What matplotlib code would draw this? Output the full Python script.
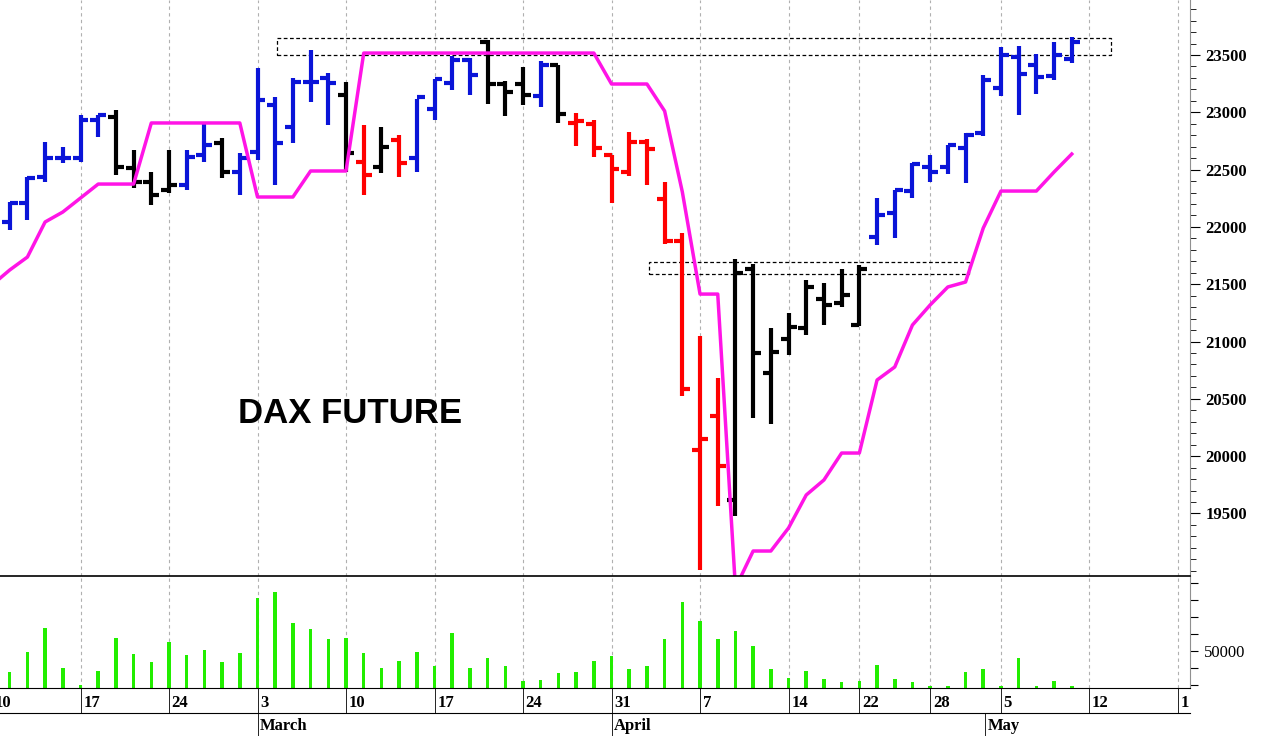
import matplotlib
matplotlib.use("Agg")
import matplotlib.pyplot as plt
import matplotlib.transforms as mtransforms
import numpy as np

# trading-day index (0 = Feb 10)
idx = list(range(1, 62))
opens = [22043,22209,22435,22601,22601,22933,22959,22514,22392,22322,22366,22627,22732,22479,22654,23063,22872,23264,23299,23151,
         22566,22523,22758,22601,23029,23256,23456,23613,23243,23243,23142,23413,22907,22898,22627,22479,22741,22243,21877,20053,
         20353,19617,21633,20728,21022,21118,21371,21336,21144,21912,22121,22313,22523,22523,22688,22820,23212,23483,23413,23316,23465]
highs = [22217,22435,22741,22697,22976,22976,23020,22671,22479,22671,22671,22915,22776,22645,23386,23133,23299,23543,23343,23264,
         22889,22872,22802,23120,23290,23491,23474,23627,23273,23395,23448,23413,22997,22936,22627,22828,22767,22392,21947,21048,
         20681,21724,21676,21118,21249,21537,21510,21633,21668,22252,22322,22558,22627,22715,22820,23325,23570,23578,23509,23613,23657]
lows = [21973,22060,22392,22558,22566,22785,22453,22340,22191,22296,22322,22566,22427,22278,22584,22366,22732,23090,22889,22479,
        22278,22470,22435,22479,22933,23195,23151,23072,22968,23060,23050,22907,22706,22614,22209,22444,22366,21851,20528,19006,
        19565,19477,20333,20283,20882,21057,21144,21301,21135,21842,21903,22252,22392,22462,22383,22793,23142,22976,23160,23282,23430]
closes = [22209,22427,22601,22601,22933,22976,22523,22392,22278,22366,22610,22715,22479,22601,23107,22732,23264,23264,23256,22645,
          22453,22697,22558,23133,23290,23456,23325,23243,23173,23151,23413,22985,22927,22691,22505,22741,22676,21877,20586,20149,
          19913,21602,20903,20912,21127,21476,21318,21406,21633,22104,22322,22549,22479,22715,22802,23282,23500,23334,23308,23500,23613]
colors = (["b"]*6 + ["k"]*4 + ["b"]*2 + ["k"] + ["b"]*6 + ["k"] + ["r","k","r"] + ["b"]*4 + ["k"]*3 + ["b","k"]
          + ["r"]*9 + ["k"]*8 + ["b"]*12)
stop_idx = list(range(0, 62))
stop = [21493,21624,21737,22043,22130,22252,22374,22374,22374,22907,22907,22907,22907,22907,22907,22261,22261,22261,22488,22488,22488,
        23517,23517,23517,23517,23517,23517,23517,23517,23517,23517,23517,23517,23517,23517,23247,23247,23247,23011,22305,21414,21414,
        18850,19172,19172,19373,19661,19792,20027,20027,20664,20778,21144,21319,21476,21519,21990,22313,22313,22313,22479,22636]
volume = [37260,49020,63130,39610,29810,38240,57450,48040,43140,55290,47450,50390,43140,48430,80770,84300,66070,62740,56860,57450,
          48430,39810,44120,49020,40790,60190,39810,45690,40790,32360,32750,36870,37260,44120,46670,39220,40790,56860,78810,67640,
          56860,61560,52550,39220,34120,38040,33340,31770,32160,41570,33340,31580,29030,29030,37260,39220,29420,45490,29030,32160,29030]
week_idx = [0,5,10,15,20,25,30,35,40,45,49,53,57,62,67]
week_lbl = ["10","17","24","3","10","17","24","31","7","14","22","28","5","12","1"]
month_idx = [15,35,56.1]
month_lbl = ["March","April","May"]

colmap = {"b": "#0a14d8", "k": "#000000", "r": "#ff0000"}
serif = dict(family="Liberation Serif", fontweight="bold")

W, H = 1262, 736
fig = plt.figure(figsize=(W/100, H/100), dpi=100)
axw = 1190/W
axp = fig.add_axes([0, 1-576/H, axw, 576/H])
axv = fig.add_axes([0, 48/H, axw, 112/H], sharex=axp)

xl = (0.452, 67.68)
for ax in (axp, axv):
    ax.set_xlim(*xl)
    for g in week_idx:
        ax.axvline(g, color="#b0b0b0", lw=0.8, ls=(0, (3, 3)), zorder=0)
    ax.yaxis.tick_right()
    ax.tick_params(axis="x", bottom=False, labelbottom=False)
    for s in ("left", "top"):
        ax.spines[s].set_visible(False)
    ax.spines["right"].set_color("#909090")

# price
tl = 0.45
for i, o, h, l, c, k in zip(idx, opens, highs, lows, closes, colors):
    col = colmap[k]
    axp.plot([i, i], [l, h], color=col, lw=3, solid_capstyle="butt")
    axp.plot([i-tl, i], [o, o], color=col, lw=3, solid_capstyle="butt")
    axp.plot([i, i+tl], [c, c], color=col, lw=3, solid_capstyle="butt")
axp.plot(stop_idx, stop, color="#ff14e6", lw=2.5, zorder=3)
axp.set_ylim(18954, 23980)
axp.add_patch(plt.Rectangle((16.1, 23500), 63.2-16.1, 148, fill=False, ls=(0, (3, 2)), lw=0.9, ec="k"))
axp.add_patch(plt.Rectangle((37.1, 21589), 55.2-37.1, 105, fill=False, ls=(0, (3, 2)), lw=0.9, ec="k"))
axp.set_yticks(np.arange(19500, 23501, 500))
axp.set_yticks(np.arange(19000, 24000, 100), minor=True)
axp.tick_params(axis="y", which="major", length=7, labelsize=12, pad=4)
axp.tick_params(axis="y", which="minor", length=4)
for t in axp.get_yticklabels():
    t.set_fontfamily("Liberation Serif"); t.set_fontweight("bold")
axp.spines["bottom"].set_visible(False)
axp.text(13.9, 20370, "DAX FUTURE", fontsize=25, fontweight="bold", family="Liberation Sans", va="center")

# volume
axv.bar(idx, [v - 28000 for v in volume], bottom=28000, width=0.2, color="#22ee00")
axv.set_ylim(28000, 94000)
axv.set_yticks(np.arange(30000, 91000, 10000))
axv.set_yticklabels(["" if v != 50000 else "50000" for v in range(30000, 91000, 10000)])
axv.tick_params(axis="y", length=6, labelsize=12, pad=4)
for t in axv.get_yticklabels():
    t.set_fontfamily("Liberation Serif")
fig.add_artist(plt.Line2D([0, axw], [1-576/H, 1-576/H], color="k", lw=1.2))

# date band
trans = mtransforms.blended_transform_factory(axv.transData, fig.transFigure)
for g, lbl in zip(week_idx, week_lbl):
    axv.text(g + 0.15, 1-703/H, lbl, transform=trans, fontsize=12, va="center", ha="left", clip_on=False, **serif)
    axv.plot([g, g], [1-688/H, 1-713/H], transform=trans, color="k", lw=0.6, clip_on=False)
for g, lbl in zip(month_idx, month_lbl):
    axv.text(g + 0.15, 1-726/H, lbl, transform=trans, fontsize=12, va="center", ha="left", clip_on=False, **serif)
    axv.plot([g, g], [1-713/H, 0], transform=trans, color="k", lw=0.6, clip_on=False)
fig.add_artist(plt.Line2D([0, axw], [1-713/H, 1-713/H], color="k", lw=0.8))

fig.savefig("out.png", dpi=100)
